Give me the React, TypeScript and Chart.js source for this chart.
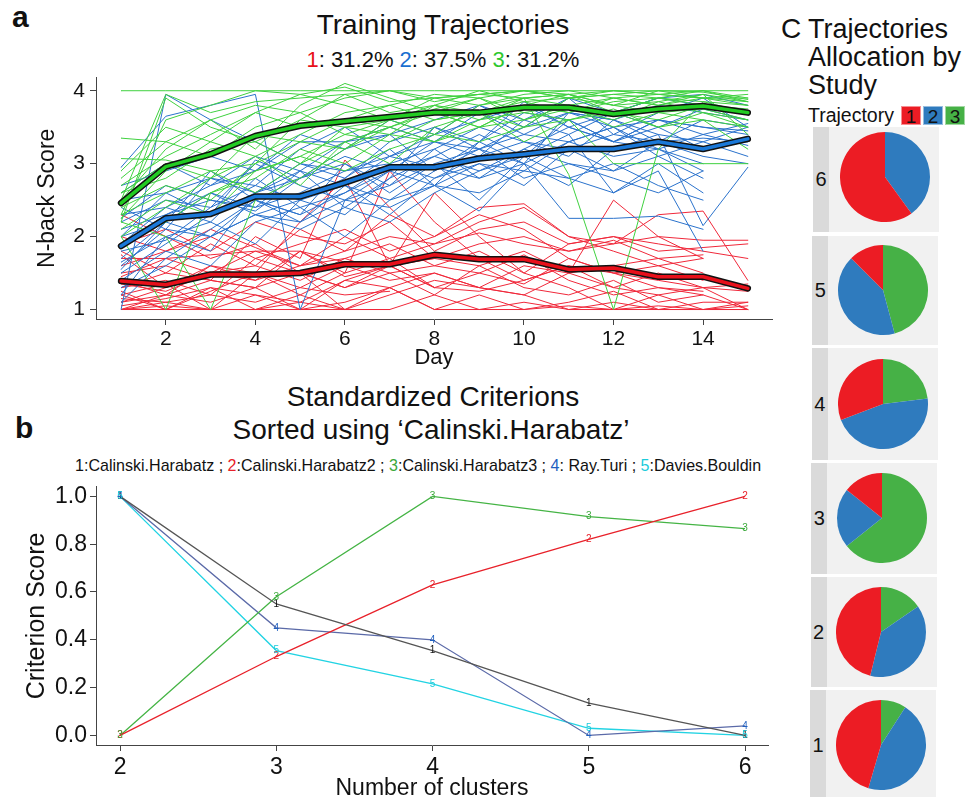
import React, { useEffect, useRef } from 'react';
import { Chart, registerables } from 'chart.js';
Chart.register(...registerables);

const FONT = "'Liberation Sans', Arial, Helvetica, sans-serif";
Chart.defaults.font.family = FONT;

// ---------- Panel a : training trajectories ----------
const DAYS = [1, 2, 3, 4, 5, 6, 7, 8, 9, 10, 11, 12, 13, 14, 15];
const DAY_TICKS = [2, 4, 6, 8, 10, 12, 14];
const SCORE_TICKS = [1, 2, 3, 4];

const MEAN_RED = [1.39, 1.34, 1.48, 1.48, 1.5, 1.62, 1.62, 1.75, 1.69, 1.69, 1.55, 1.57, 1.45, 1.45, 1.29];
const MEAN_BLUE = [1.87, 2.25, 2.31, 2.55, 2.55, 2.74, 2.95, 2.95, 3.07, 3.13, 3.2, 3.2, 3.3, 3.2, 3.34];
const MEAN_GREEN = [2.46, 2.96, 3.13, 3.38, 3.52, 3.58, 3.64, 3.7, 3.7, 3.77, 3.77, 3.68, 3.75, 3.79, 3.7];

const GREEN_TRAJ = [
  [4, 4, 4, 4, 4, 4, 4, 4, 4, 4, 4, 4, 4, 4, 4],
  [2.5, 3.95, 3.7, 3.85, 3.9, 3.95, 4.0, 3.9, 3.95, 3.9, 3.95, 4.0, 3.95, 4.0, 3.9],
  [2.3, 3.6, 3.8, 4.0, 3.95, 4.05, 3.85, 3.9, 3.95, 4.0, 3.9, 3.95, 4.0, 3.98, 3.88],
  [2.2, 3.9, 3.5, 3.3, 3.6, 3.95, 3.7, 3.8, 4.0, 3.85, 3.9, 3.95, 3.9, 4.0, 3.85],
  [3.35, 3.3, 3.1, 3.5, 3.7, 3.4, 3.6, 3.8, 3.7, 3.9, 3.8, 3.7, 3.6, 3.8, 3.75],
  [3.07, 3.05, 2.9, 2.6, 3.0, 3.3, 3.5, 3.7, 3.5, 3.8, 3.7, 3.9, 3.8, 3.9, 3.8],
  [2.0, 1.0, 2.6, 2.9, 3.1, 3.4, 3.3, 3.6, 3.7, 3.5, 3.9, 3.8, 3.7, 3.75, 3.6],
  [2.2, 2.0, 1.0, 2.5, 2.8, 3.2, 3.5, 3.3, 3.6, 3.7, 3.6, 3.75, 3.5, 3.7, 3.5],
  [2.6, 2.8, 3.2, 3.3, 3.0, 3.5, 3.6, 3.4, 3.8, 3.9, 2.85, 1.0, 3.2, 3.85, 3.7],
  [2.4, 2.7, 2.5, 3.0, 3.3, 3.2, 3.6, 3.7, 3.5, 3.8, 3.95, 3.7, 3.9, 3.85, 3.8],
  [2.7, 3.1, 3.4, 3.7, 3.5, 3.6, 3.8, 3.95, 3.9, 3.7, 3.8, 3.9, 3.95, 3.9, 3.95],
  [2.3, 2.6, 2.9, 3.0, 3.6, 3.5, 3.4, 3.8, 3.6, 3.9, 3.95, 3.8, 3.85, 3.95, 3.4],
  [2.8, 3.3, 3.6, 3.2, 3.8, 4.1, 3.9, 3.7, 3.9, 4.0, 3.95, 3.8, 4.0, 3.9, 3.85],
  [2.1, 2.5, 2.3, 2.9, 3.1, 2.9, 3.2, 3.4, 3.3, 3.5, 3.6, 3.0, 3.0, 3.0, 3.0],
  [2.0, 2.4, 2.8, 3.1, 2.7, 3.3, 3.0, 3.5, 3.7, 3.3, 3.6, 3.7, 3.5, 3.6, 3.2],
  [2.5, 3.2, 3.6, 3.8, 3.7, 3.9, 4.0, 3.85, 3.95, 4.0, 3.9, 4.0, 3.95, 3.9, 3.9],
  [2.9, 3.5, 3.3, 3.7, 3.95, 3.8, 3.6, 3.9, 3.8, 3.95, 4.0, 3.9, 3.8, 3.95, 3.85],
  [2.25, 2.9, 3.3, 3.1, 3.4, 3.7, 3.8, 3.6, 3.7, 3.85, 3.7, 3.85, 3.9, 3.8, 3.7],
  [2.6, 3.0, 2.8, 3.4, 3.3, 3.6, 3.5, 3.75, 3.9, 3.6, 3.75, 3.6, 3.85, 3.7, 3.6],
  [1.9, 2.2, 2.6, 2.8, 3.2, 3.0, 3.4, 3.3, 3.5, 3.6, 3.8, 3.5, 3.7, 3.6, 3.5],
];

const BLUE_TRAJ = [
  [1.0, 3.95, 3.6, 3.3, 3.0, 2.9, 3.1, 3.3, 3.2, 3.5, 3.7, 3.6, 3.8, 3.7, 3.6],
  [2.95, 3.65, 3.8, 3.95, 1.0, 2.5, 2.7, 3.0, 3.2, 3.4, 3.3, 3.5, 3.6, 3.5, 3.4],
  [1.9, 2.3, 2.5, 2.4, 2.6, 2.9, 3.0, 2.8, 3.1, 3.3, 3.2, 3.4, 3.3, 3.35, 3.3],
  [1.6, 2.1, 2.0, 2.5, 2.3, 2.6, 2.9, 3.1, 2.9, 3.2, 3.5, 3.3, 3.6, 3.5, 3.45],
  [2.2, 2.5, 2.4, 3.0, 2.7, 2.5, 2.9, 2.7, 3.3, 3.0, 2.25, 2.25, 2.28, 2.1, null],
  [1.5, 1.9, 2.3, 2.6, 2.8, 3.0, 2.7, 3.2, 3.5, 3.3, 3.1, 3.6, 3.4, 2.15, 2.95],
  [2.5, 2.6, 2.8, 2.7, 3.2, 3.5, 3.1, 3.4, 3.6, 3.8, 3.5, 3.7, 3.9, 3.95, 3.8],
  [1.4, 1.8, 1.6, 2.2, 2.4, 2.0, 2.5, 2.7, 2.6, 2.9, 2.8, 3.0, 2.7, 2.5, null],
  [1.2, 2.0, 2.2, 1.9, 2.5, 2.7, 2.3, 2.8, 3.0, 2.7, 3.2, 2.9, 3.1, 2.8, null],
  [2.0, 2.6, 2.3, 3.05, 2.8, 3.2, 3.4, 2.9, 3.3, 3.7, 3.6, 3.3, 3.5, 3.2, 3.3],
  [1.7, 2.2, 2.0, 2.3, 2.2, 2.5, 2.4, 2.7, 2.35, 3.0, 3.3, 3.1, 3.2, 2.9, null],
  [2.3, 2.4, 2.7, 2.9, 3.3, 3.3, 3.4, 3.6, 3.8, 3.5, 3.9, 3.4, 3.7, 3.9, 3.5],
  [1.3, 1.6, 2.0, 2.3, 2.1, 2.4, 2.2, 2.6, 2.9, 3.1, 2.8, 2.6, 2.9, 1.8, null],
  [2.1, 2.3, 2.6, 2.4, 2.9, 2.7, 3.1, 2.95, 2.8, 3.2, 3.0, 2.9, 3.3, 3.1, 3.0],
  [1.8, 1.95, 2.4, 2.7, 2.5, 2.3, 2.8, 3.1, 3.4, 3.1, 3.6, 3.3, 3.2, 3.4, 3.25],
  [2.6, 3.0, 2.7, 3.1, 2.9, 3.3, 3.5, 3.3, 3.7, 3.4, 3.7, 3.6, 3.3, 3.6, 3.5],
  [2.25, 2.7, 2.5, 2.35, 2.8, 3.1, 2.9, 3.3, 3.1, 3.6, 3.4, 3.7, 3.5, 3.75, 3.6],
  [1.55, 2.2, 2.6, 2.3, 2.5, 2.8, 3.2, 2.7, 3.0, 2.9, 3.3, 3.5, 3.2, 3.0, null],
  [2.4, 2.1, 2.8, 2.6, 3.0, 2.8, 3.3, 3.5, 3.3, 3.85, 3.5, 3.3, 3.6, 3.4, 3.55],
  [1.9, 2.4, 2.2, 2.8, 2.4, 2.6, 3.0, 3.2, 2.8, 3.0, 2.7, 3.2, 3.4, 3.3, 3.5],
  [1.1, 1.7, 2.1, 2.5, 2.2, 2.7, 2.5, 2.9, 3.2, 2.8, 3.0, 2.8, 2.6, 2.9, null],
  [2.7, 2.9, 3.1, 2.9, 3.4, 3.2, 3.6, 3.4, 3.8, 3.6, 3.9, 3.7, 3.9, 3.8, 3.7],
  [2.0, 2.2, 2.9, 2.5, 2.3, 3.0, 2.6, 3.0, 2.5, 3.1, 3.4, 2.6, 3.0, 2.6, null],
  [1.65, 2.0, 1.8, 2.6, 2.9, 2.4, 2.8, 3.5, 3.2, 3.0, 3.7, 3.5, 3.1, 3.3, 3.1],
];

const RED_TRAJ = [
  [1.0, 1.0, 1.0, 1.0, 1.0, 1.0, 1.0, null, null, null, null, null, null, null, null],
  [1.15, 1.1, 1.2, 1.1, 1.3, 1.2, 1.25, null, null, null, null, null, null, null, null],
  [1.7, 1.7, 1.75, 1.8, 1.8, 1.65, 1.6, 1.7, null, null, null, null, null, null, null],
  [1.4, 1.2, 1.6, 1.5, 2.2, 2.8, 1.6, 1.7, 1.9, 2.0, 1.8, 1.9, 2.0, 1.95, 1.95],
  [1.3, 1.5, 1.4, 2.0, 1.7, 3.05, 2.4, 1.8, 2.1, 2.2, 1.9, 2.0, 1.9, 1.8, 1.7],
  [1.2, 1.35, 1.0, 1.5, 1.3, 1.6, 1.4, 1.5, 1.3, 1.6, 1.5, 2.5, 2.0, 1.7, null],
  [1.1, 1.3, 1.5, 1.4, 1.6, 1.8, 2.0, 1.9, 2.2, 2.4, 2.0, 1.9, 2.3, 2.35, 1.4],
  [1.0, 1.2, 1.1, 1.3, 1.0, 1.4, 1.6, 2.6, 2.0, 1.5, 1.3, 1.0, 1.2, 1.0, 1.05],
  [1.5, 1.6, 1.4, 1.3, 1.8, 1.5, 1.7, 1.3, 1.25, 1.4, 1.6, 1.5, 1.3, 1.2, 1.0],
  [1.25, 1.0, 1.3, 1.2, 1.1, 1.4, 1.3, 1.0, 1.2, 1.0, 1.1, 1.25, 1.0, 1.1, 1.1],
  [1.6, 1.8, 2.0, 1.7, 1.9, 2.1, 1.8, 2.0, 2.3, 2.1, 1.7, 1.5, 1.4, 1.3, 1.35],
  [1.0, 1.1, 1.0, 1.2, 1.0, 1.1, 1.3, 1.0, 1.0, 1.0, 1.05, 1.0, 1.0, 1.0, 1.0],
  [1.9, 2.1, 1.8, 2.2, 2.0, 1.9, 2.2, 1.7, 1.6, 1.8, 1.5, 1.6, 1.7, 1.5, null],
  [1.35, 1.25, 1.5, 1.6, 1.4, 1.7, 1.5, 1.6, 1.5, 1.75, 1.4, 1.2, 1.3, 1.25, null],
  [2.3, 2.0, 1.7, 1.9, 1.5, 1.0, 1.2, 1.4, 1.3, 1.2, 1.0, 1.1, 1.0, 1.0, 1.0],
  [1.1, 1.2, 1.4, 1.3, 1.5, 1.3, 1.6, 1.3, null, null, null, null, null, null, null],
  [1.8, 1.5, 1.9, 1.6, 2.1, 1.8, 2.3, 2.0, 2.4, 2.45, 2.0, 1.8, 1.6, 1.7, null],
  [1.2, 1.0, 1.25, 1.5, 1.2, 1.0, 1.3, 1.5, 1.3, 1.2, 1.5, 1.3, 1.2, 1.3, 1.25],
  [1.45, 1.7, 1.5, 1.8, 1.6, 2.0, 1.7, 1.9, 2.05, 1.9, 1.8, 1.95, 1.7, 1.75, null],
  [1.05, 1.15, 1.3, 1.0, 1.2, 1.5, 2.9, 2.2, 1.7, 1.4, 1.6, 1.3, 1.5, 1.3, 1.0],
  [2.0, 1.8, 2.1, 1.85, 1.6, 1.7, 1.9, 1.6, 1.8, 1.5, 1.9, 2.0, 1.8, 1.85, 1.9],
  [1.3, 1.4, 1.2, 1.7, 1.5, 1.3, 1.5, 1.2, 1.6, 1.3, 1.2, 1.4, 1.1, 1.2, null],
  [1.0, 1.05, 1.0, 1.0, 1.1, 1.0, 1.0, 1.2, 1.0, 1.1, 1.0, 1.0, 1.05, 1.0, 1.1],
  [1.75, 1.3, 1.6, 1.4, 1.8, 1.45, 1.6, 1.3, 1.5, 1.35, 1.7, 1.5, 1.6, 1.4, null],
];

// ---------- Panel b : standardized criterions ----------
const CLUSTERS = [2, 3, 4, 5, 6];
const CLUSTER_TICKS = [2, 3, 4, 5, 6];
const CRIT_TICKS = [0, 0.2, 0.4, 0.6, 0.8, 1.0];
const CALINSKI = [1.0, 0.55, 0.355, 0.135, 0.0];
const CALINSKI2 = [0.0, 0.33, 0.63, 0.82, 1.0];
const CALINSKI3 = [0.0, 0.58, 1.0, 0.915, 0.865];
const RAY_TURI = [1.0, 0.45, 0.4, 0.0, 0.04];
const DAVIES = [1.0, 0.355, 0.216, 0.03, 0.0];
const CRIT_NAMES = ['Calinski.Harabatz', 'Calinski.Harabatz2', 'Calinski.Harabatz3', 'Ray.Turi', 'Davies.Bouldin'];

// ---------- Panel C : allocation by study ----------
const STUDIES = ['6', '5', '4', '3', '2', '1'];
const PIE_TRAJ1 = [3, 3, 4, 2, 6, 5];
const PIE_TRAJ2 = [2, 10, 6, 3, 5, 5];
const PIE_TRAJ3 = [0, 11, 3, 9, 2, 1];

const RED = '#ec1c24';
const BLUE = '#2f7bbe';
const GREEN = '#46b146';

const CRIT_LINE_COLORS = ['#555555', '#e8212a', '#45b445', '#5b6aa8', '#22d3e3'];
const CRIT_LABEL_COLORS = ['#111111', '#e8212a', '#3aa83a', '#1f5fbf', '#1ccbdb'];

const pointDigits = {
  id: 'pointDigits',
  afterDatasetsDraw(chart: any) {
    const ctx = chart.ctx;
    chart.data.datasets.forEach((_ds: any, i: number) => {
      const meta = chart.getDatasetMeta(i);
      ctx.save();
      ctx.font = `10px ${FONT}`;
      ctx.fillStyle = CRIT_LABEL_COLORS[i];
      ctx.textAlign = 'center';
      ctx.textBaseline = 'middle';
      meta.data.forEach((el: any) => ctx.fillText(String(i + 1), el.x, el.y));
      ctx.restore();
    });
  },
};

const A_W = 790, A_H = 312, B_W = 790, B_H = 340;
const PIE_CENTERS = [
  [884.5, 177], [883, 289.5], [883, 403.5], [881.5, 518], [881, 632], [880.5, 745],
];
const PANEL_BOXES = [
  [127, 232], [236, 345], [348, 460], [463, 574], [577, 687], [690, 800],
];

export default function App() {
  const aRef = useRef<HTMLCanvasElement>(null);
  const bRef = useRef<HTMLCanvasElement>(null);
  const pieRefs = useRef<(HTMLCanvasElement | null)[]>([]);

  useEffect(() => {
    const charts: Chart[] = [];
    const toXY = (vals: (number | null)[], xs: number[]) => vals.map((v, i) => ({ x: xs[i], y: v }));
    const line = (vals: (number | null)[], color: string, width: number, order: number) => ({
      data: toXY(vals, DAYS),
      borderColor: color,
      borderWidth: width,
      pointRadius: 0,
      fill: false,
      tension: 0,
      order,
      borderCapStyle: 'round',
      borderJoinStyle: 'round',
    });

    const axisCommon = {
      grid: { display: true, drawOnChartArea: false, drawTicks: true, tickLength: 6, color: '#444' },
      border: { display: true, color: '#444', width: 1 },
    };

    charts.push(
      new Chart(aRef.current!, {
        type: 'line',
        data: {
          datasets: [
            ...GREEN_TRAJ.map((v) => line(v, '#3fd13f', 1, 10)),
            ...BLUE_TRAJ.map((v) => line(v, '#2a72cc', 1, 10)),
            ...RED_TRAJ.map((v) => line(v, '#f0283a', 1, 10)),
            line(MEAN_GREEN, '#111111', 6.5, 2),
            line(MEAN_BLUE, '#111111', 6.5, 2),
            line(MEAN_RED, '#111111', 6.5, 2),
            line(MEAN_GREEN, '#22cc22', 3.5, 1),
            line(MEAN_BLUE, '#1a78d8', 3.5, 1),
            line(MEAN_RED, '#e8101a', 3.5, 1),
          ] as any,
        },
        options: {
          responsive: false,
          animation: false,
          events: [],
          layout: { padding: { left: 0, right: A_W - 772, top: 7, bottom: 0 } },
          plugins: { legend: { display: false }, tooltip: { enabled: false } },
          scales: {
            x: {
              type: 'linear',
              min: 0.44,
              max: 15.54,
              afterBuildTicks: (s: any) => { s.ticks = DAY_TICKS.map((v) => ({ value: v })); },
              afterFit: (s: any) => { s.height = A_H - 259; },
              ...axisCommon,
              ticks: { font: { size: 21 }, color: '#111', padding: 2, maxRotation: 0, autoSkip: false, callback: (v: any) => String(v) },
              title: { display: true, text: 'Day', font: { size: 22 }, color: '#111', padding: { top: 0, bottom: 1 } },
            },
            y: {
              type: 'linear',
              min: 0.87,
              max: 4.18,
              afterBuildTicks: (s: any) => { s.ticks = SCORE_TICKS.map((v) => ({ value: v })); },
              afterFit: (s: any) => { s.width = 96; },
              ...axisCommon,
              ticks: { font: { size: 21 }, color: '#111', padding: 5, callback: (v: any) => String(v) },
              title: { display: true, text: 'N-back Score', font: { size: 23 }, color: '#111', padding: { top: 34, bottom: 0 } },
            },
          },
        } as any,
      })
    );

    const critSeries = [CALINSKI, CALINSKI2, CALINSKI3, RAY_TURI, DAVIES];
    charts.push(
      new Chart(bRef.current!, {
        type: 'line',
        data: {
          datasets: critSeries.map((vals, i) => ({
            label: CRIT_NAMES[i],
            data: toXY(vals, CLUSTERS),
            borderColor: CRIT_LINE_COLORS[i],
            borderWidth: 1.3,
            pointRadius: 0,
            tension: 0,
            fill: false,
          })) as any,
        },
        options: {
          responsive: false,
          animation: false,
          events: [],
          layout: { padding: { left: 0, right: B_W - 768, top: 10, bottom: 0 } },
          plugins: { legend: { display: false }, tooltip: { enabled: false } },
          scales: {
            x: {
              type: 'linear',
              min: 1.846,
              max: 6.147,
              afterBuildTicks: (s: any) => { s.ticks = CLUSTER_TICKS.map((v) => ({ value: v })); },
              afterFit: (s: any) => { s.height = B_H - 275; },
              ...axisCommon,
              ticks: { font: { size: 23 }, color: '#111', padding: 3, maxRotation: 0, autoSkip: false, callback: (v: any) => String(v) },
              title: { display: true, text: 'Number of clusters', font: { size: 23 }, color: '#111', padding: { top: 0, bottom: 8 } },
            },
            y: {
              type: 'linear',
              min: -0.04,
              max: 1.04,
              afterBuildTicks: (s: any) => { s.ticks = CRIT_TICKS.map((v) => ({ value: v })); },
              afterFit: (s: any) => { s.width = 96; },
              ...axisCommon,
              ticks: { font: { size: 23 }, color: '#111', padding: 3, callback: (v: any) => Number(v).toFixed(1) },
              title: { display: true, text: 'Criterion Score', font: { size: 25 }, color: '#111', padding: { top: 22, bottom: 0 } },
            },
          },
        } as any,
        plugins: [pointDigits],
      })
    );

    STUDIES.forEach((_s, i) => {
      const c = pieRefs.current[i];
      if (!c) return;
      charts.push(
        new Chart(c, {
          type: 'pie',
          data: {
            labels: ['3', '2', '1'],
            datasets: [{
              data: [PIE_TRAJ3[i], PIE_TRAJ2[i], PIE_TRAJ1[i]],
              backgroundColor: [GREEN, BLUE, RED],
              borderWidth: 0,
              hoverOffset: 0,
              offset: 0,
            }],
          },
          options: {
            responsive: false,
            animation: false,
            events: [],
            layout: { padding: 0 },
            plugins: { legend: { display: false }, tooltip: { enabled: false } },
          } as any,
        })
      );
    });

    return () => charts.forEach((ch) => ch.destroy());
  }, []);

  const abs = (l: number, t: number, extra: any = {}) => ({ position: 'absolute' as const, left: l, top: t, ...extra });

  return (
    <div style={{ position: 'absolute', left: 0, top: 0, width: 965, height: 797, overflow: 'hidden', background: '#fff', fontFamily: FONT, color: '#111' }}>
      {/* Panel a */}
      <div style={abs(12, 2, { fontSize: 30, fontWeight: 'bold', lineHeight: '30px' })}>a</div>
      <div style={abs(243, 11, { width: 400, textAlign: 'center', fontSize: 28, lineHeight: '28px', whiteSpace: 'nowrap' })}>Training Trajectories</div>
      <div style={abs(243, 49, { width: 400, textAlign: 'center', fontSize: 22, lineHeight: '22px', whiteSpace: 'nowrap' })}>
        <span style={{ color: '#e8101a' }}>1</span>: 31.2% <span style={{ color: '#1a6fd0' }}>2</span>: 37.5% <span style={{ color: '#2ec82e' }}>3</span>: 31.2%
      </div>
      <canvas ref={aRef} width={A_W} height={A_H} style={abs(0, 60, { width: A_W, height: A_H })} />

      {/* Panel b */}
      <div style={abs(15, 413, { fontSize: 30, fontWeight: 'bold', lineHeight: '30px' })}>b</div>
      <div style={abs(183, 383, { width: 500, textAlign: 'center', fontSize: 28, lineHeight: '28px', whiteSpace: 'nowrap' })}>Standardized Criterions</div>
      <div style={abs(181, 416, { width: 500, textAlign: 'center', fontSize: 28, lineHeight: '28px', whiteSpace: 'nowrap' })}>Sorted using ‘Calinski.Harabatz’</div>
      <div style={abs(75, 457, { fontSize: 17, lineHeight: '17px', whiteSpace: 'nowrap', transform: 'scaleX(0.944)', transformOrigin: 'left center' })}>
        <span style={{ color: CRIT_LABEL_COLORS[0] }}>1</span>:{CRIT_NAMES[0]} ; <span style={{ color: CRIT_LABEL_COLORS[1] }}>2</span>:{CRIT_NAMES[1]} ; <span style={{ color: CRIT_LABEL_COLORS[2] }}>3</span>:{CRIT_NAMES[2]} ; <span style={{ color: CRIT_LABEL_COLORS[3] }}>4</span>: {CRIT_NAMES[3]} ; <span style={{ color: CRIT_LABEL_COLORS[4] }}>5</span>:{CRIT_NAMES[4]}
      </div>
      <canvas ref={bRef} width={B_W} height={B_H} style={abs(0, 470, { width: B_W, height: B_H })} />

      {/* Panel C */}
      <div style={abs(781, 15, { fontSize: 28, lineHeight: '28px' })}>C</div>
      <div style={abs(808, 15, { fontSize: 27, lineHeight: '28px', whiteSpace: 'nowrap' })}>
        Trajectories<br />Allocation by<br />Study
      </div>
      <div style={abs(808, 104, { fontSize: 19.5, lineHeight: '22px', whiteSpace: 'nowrap' })}>Trajectory</div>
      {[['1', RED, 901], ['2', BLUE, 923], ['3', GREEN, 945]].map(([t, c, x]) => (
        <div key={t as string} style={abs(x as number, 106, { width: 20, height: 19, background: c as string, boxSizing: 'border-box', border: '1px solid rgba(255,255,255,0.5)', fontSize: 19, lineHeight: '19px', textAlign: 'center', color: '#111' })}>{t}</div>
      ))}
      {STUDIES.map((s, i) => {
        const [t, b] = PANEL_BOXES[i];
        const left = 813 - i * 0.6;
        return (
          <React.Fragment key={s}>
            <div style={abs(left, t, { width: 16, height: b - t, background: '#dadada' })} />
            <div style={abs(left + 16, t, { width: 110, height: b - t, background: '#f1f1f1' })} />
            <div style={abs(left, t, { width: 16, height: b - t, fontSize: 20, lineHeight: `${b - t}px`, textAlign: 'center', color: '#111' })}>{s}</div>
          </React.Fragment>
        );
      })}
      {STUDIES.map((s, i) => {
        const [cx, cy] = PIE_CENTERS[i];
        return (
          <canvas
            key={'pie' + s}
            ref={(el) => { pieRefs.current[i] = el; }}
            width={90}
            height={90}
            style={abs(cx - 45, cy - 45, { width: 90, height: 90 })}
          />
        );
      })}
    </div>
  );
}
